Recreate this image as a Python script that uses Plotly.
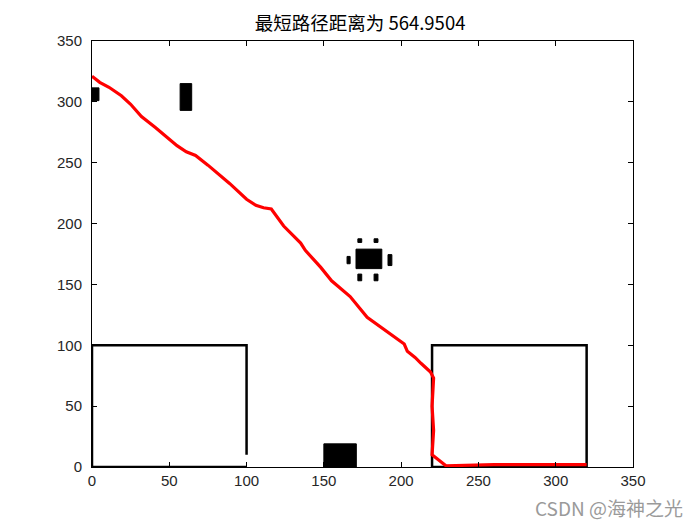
import plotly.graph_objects as go

# Shortest path (red)
path_x = [0, 5, 11, 19, 25, 32, 41, 50, 55, 61, 67, 75, 89, 100, 106, 111, 116, 124, 135, 138,
          148, 155, 167, 178, 190, 202, 204, 209, 213, 219, 221, 220, 221, 220, 229, 260, 300, 320]
path_y = [321, 316, 312, 305, 298, 288, 279, 269, 264, 259, 256, 248, 233, 220, 215, 213, 212, 198, 184, 178,
          164, 153, 140, 123, 112, 101, 95, 90, 85, 78, 73, 50, 30, 10, 1, 2, 2, 2]

# Filled obstacles: x0, x1, y0, y1
block_x0 = [0, 57, 170.8, 172, 182.5, 172, 182.5, 165, 191.5, 150]
block_x1 = [4.5, 64.5, 187.5, 174.5, 185, 174.5, 185, 167, 194, 171]
block_y0 = [301, 293, 163, 184.5, 184.5, 153, 153, 167, 165.5, 0]
block_y1 = [311.5, 315, 179, 187.5, 187.5, 158.5, 158.5, 173, 174.5, 19]

# Outlined obstacles (polylines)
wall1_x = [100, 100, 0, 0, 100]
wall1_y = [10, 100, 100, 0, 0]
wall2_x = [220, 220, 320, 320, 220]
wall2_y = [0, 100, 100, 0, 0]

x_ticks = [0, 50, 100, 150, 200, 250, 300, 350]
y_ticks = [0, 50, 100, 150, 200, 250, 300, 350]

fig = go.Figure()

for x0, x1, y0, y1 in zip(block_x0, block_x1, block_y0, block_y1):
    fig.add_trace(go.Scatter(x=[x0, x1, x1, x0, x0], y=[y0, y0, y1, y1, y0],
                             mode="lines", fill="toself", fillcolor="black",
                             line=dict(color="black", width=1), hoverinfo="skip",
                             showlegend=False))

for wx, wy in [(wall1_x, wall1_y), (wall2_x, wall2_y)]:
    fig.add_trace(go.Scatter(x=wx, y=wy, mode="lines",
                             line=dict(color="black", width=2.5), showlegend=False,
                             hoverinfo="skip"))

fig.add_trace(go.Scatter(x=path_x, y=path_y, mode="lines",
                         line=dict(color="#ff0000", width=3.2), showlegend=False))

axis_common = dict(showgrid=False, zeroline=False, showline=True, linecolor="black",
                   linewidth=1, mirror="ticks", ticks="inside", ticklen=5,
                   tickcolor="black", tickfont=dict(family="Liberation Sans, Arial", size=15, color="#262626"))

fig.update_xaxes(range=[0, 350], tickvals=x_ticks, ticktext=[str(v) for v in x_ticks], **axis_common)
fig.update_yaxes(range=[0, 350], tickvals=y_ticks, ticktext=[str(v) for v in y_ticks],
                 ticklabelstandoff=6, **axis_common)

fig.update_layout(
    width=700, height=525,
    margin=dict(l=84, r=75, t=33, b=66),
    plot_bgcolor="white", paper_bgcolor="white",
    title=dict(text="最短路径距离为 564.9504", x=0.503, xanchor="center", y=0.9695, yanchor="middle",
               font=dict(family="Noto Sans CJK SC, Liberation Sans", size=18.5, color="black")),
    annotations=[dict(text="CSDN @海神之光", xref="paper", yref="paper", x=1.096, y=-0.094,
                      xanchor="right", yanchor="middle", showarrow=False,
                      font=dict(family="Noto Sans CJK SC, Liberation Sans", size=19, color="#9a9a9a"))],
)

fig.write_html("out.html")
